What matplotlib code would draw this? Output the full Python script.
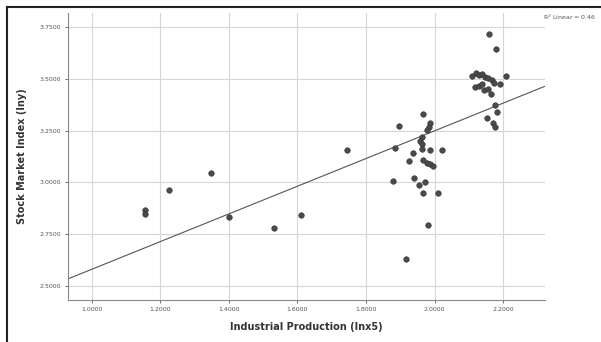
import matplotlib

matplotlib.use("Agg")
import matplotlib.pyplot as plt
import numpy as np
from matplotlib.lines import Line2D

# industrial production (ln x5) vs stock market index (ln y)
ip = [
    1.1547, 1.1547, 1.2248, 1.3474, 1.4000, 1.5314, 1.6102, 1.7445,
    1.8964, 1.9664, 1.9869, 1.9839, 1.9781, 1.9635, 1.9577, 1.9635,
    1.8847, 1.9372, 1.9635, 1.9869, 2.0219, 1.9255, 1.9664, 1.9781,
    1.9869, 1.9956, 1.8788, 1.9401, 1.9547, 1.9723, 1.9664, 2.0102,
    1.9810, 1.9168,
    2.1591, 2.1796, 2.1095, 2.1212, 2.1299, 2.1387, 2.1474, 2.1562,
    2.1679, 2.1737, 2.2088, 2.1912, 2.1182, 2.1299, 2.1387, 2.1445,
    2.1562, 2.1650, 2.1766, 2.1825, 2.1533, 2.1708, 2.1766,
]
smi = [
    2.8668, 2.8475, 2.9633, 3.0454, 2.8330, 2.7799, 2.8427, 3.1564,
    3.2722, 3.3301, 3.2867, 3.2674, 3.2529, 3.2191, 3.1998, 3.1853,
    3.1660, 3.1419, 3.1612, 3.1564, 3.1564, 3.1033, 3.1081, 3.0936,
    3.0888, 3.0792, 3.0068, 3.0212, 2.9875, 3.0019, 2.9488, 2.9488,
    2.7944, 2.6303,
    3.7162, 3.6438, 3.5135, 3.5280, 3.5183, 3.5232, 3.5087, 3.5039,
    3.4942, 3.4797, 3.5135, 3.4749, 3.4604, 3.4653, 3.4749, 3.4459,
    3.4508, 3.4266, 3.3736, 3.3398, 3.3108, 3.2867, 3.2674,
]
x_ticks = [1.0, 1.2, 1.4, 1.6, 1.8, 2.0, 2.2]
y_ticks = [2.50, 2.75, 3.00, 3.25, 3.50, 3.75]
r2_label = "R$^2$ Linear = 0.46"

W, H = 601, 342
fig = plt.figure(figsize=(W / 100, H / 100), dpi=100)
ax = fig.add_axes([68 / W, 1 - 300 / H, (545 - 68) / W, (300 - 13) / H])

xlim = (0.930, 2.3226)
ylim = (2.432, 3.818)

ax.grid(True, color="#d6d6d6", linewidth=0.8)
ax.set_axisbelow(True)
ax.scatter(ip, smi, s=16, color="#4a4a4a", edgecolors="#333333",
           linewidths=0.4, zorder=3)

# linear fit
slope, inter = np.polyfit(ip, smi, 1)
xs = np.array(xlim)
ax.plot(xs, inter + slope * xs, color="#555555", linewidth=0.8, zorder=2)

ax.set_xlim(*xlim)
ax.set_ylim(*ylim)
ax.set_xticks(x_ticks)
ax.set_yticks(y_ticks)
ax.set_xticklabels([f"{v:.4f}" for v in x_ticks])
ax.set_yticklabels([f"{v:.4f}" for v in y_ticks])
ax.tick_params(labelsize=4.5, colors="#555555", length=2, width=0.6,
               pad=3)

for side in ("top", "right"):
    ax.spines[side].set_visible(False)
for side in ("left", "bottom"):
    ax.spines[side].set_color("#888888")
    ax.spines[side].set_linewidth(0.8)

ax.set_xlabel("Industrial Production (lnx5)", fontsize=7, fontweight="bold",
              color="#333333", labelpad=7)
ax.set_ylabel("Stock Market Index (lny)", fontsize=7, fontweight="bold",
              color="#333333", labelpad=9)

fig.text(543 / W, 1 - 17 / H, r2_label, fontsize=4.5, color="#555555",
         ha="left", va="center")

# outer frame (top + left visible)
fig.add_artist(Line2D([7 / W, 1], [1 - 7 / H, 1 - 7 / H], color="#222222",
                      linewidth=1.5, transform=fig.transFigure))
fig.add_artist(Line2D([7 / W, 7 / W], [0, 1 - 7 / H], color="#222222",
                      linewidth=1.5, transform=fig.transFigure))

fig.savefig("out.png", dpi=100)
